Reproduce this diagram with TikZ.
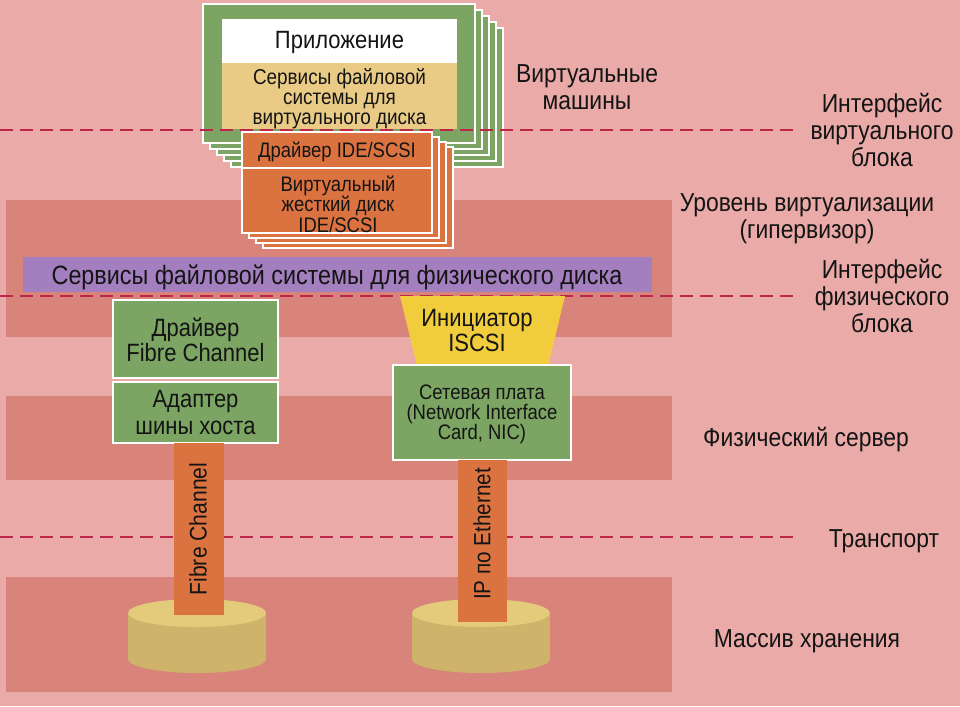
\documentclass[tikz,border=0pt]{standalone}
\usepackage{fontspec}
\setmainfont[FakeStretch=0.88]{Liberation Sans}
\definecolor{bgpink}{HTML}{E9AAA8}
\definecolor{bandred}{HTML}{D9847B}
\definecolor{vmgreen}{HTML}{7CA463}
\definecolor{vfsyellow}{HTML}{E9CB86}
\definecolor{boxorange}{HTML}{DB7341}
\definecolor{fspurple}{HTML}{A47FBF}
\definecolor{isyellow}{HTML}{F1CD3E}
\definecolor{cyltop}{HTML}{E4CB7C}
\definecolor{cylside}{HTML}{CFB36A}
\definecolor{dashred}{HTML}{BB2649}
\definecolor{ink}{HTML}{141414}
\newcommand\myfs[2]{\fontsize{#1}{#2}\selectfont}
\begin{document}
\begin{tikzpicture}[x=1pt,y=-1pt,
  lbl/.style={inner sep=0pt, align=center, text=ink},
  wbox/.style={draw=white, line width=1.8pt},
  plain/.style={inner sep=0pt, outer sep=0pt, anchor=north west},
  dashline/.style={draw=dashred, line width=2.8pt, dash pattern=on 13pt off 7pt},
  side/.style={lbl, font=\myfs{26}{27}}]
\useasboundingbox (0,0) rectangle (960,706);
\fill[bgpink] (0,0) rectangle (960,706);
% bands
\fill[bandred] (6,200) rectangle (672,337);
\fill[bandred] (6,396) rectangle (672,480);
\fill[bandred] (6,577) rectangle (672,692);
% virtual machines stack
\foreach \k in {4,3,2,1}
  \draw[wbox, fill=vmgreen] ({203+7*\k},{4+6*\k}) rectangle ++(272,139);
\node[plain, wbox, fill=vmgreen, minimum width=272pt, minimum height=139pt] (vm) at (203,4) {};
\node[plain, fill=white, minimum width=235pt, minimum height=44pt] (appbox) at (222,19) {};
\node[plain, fill=vfsyellow, minimum width=235pt, minimum height=66pt] (vfsbox) at (222,63) {};
\node[lbl, font=\myfs{25}{26}] (app) at (339.5,42) {Приложение};
\node[lbl, font=\myfs{21.5}{20}] (vfs) at (339.5,99) {Сервисы файловой\\системы для\\виртуального диска};
% dashed interface lines
\coordinate (d1a) at (0,130);   \coordinate (d1b) at (800,130);
\coordinate (d2a) at (0,296);   \coordinate (d2b) at (800,296);
\coordinate (d3a) at (0,537);   \coordinate (d3b) at (800,537);
\draw[dashline] (d1a) -- (d1b);
% virtual disk stack
\foreach \k in {3,2,1}
  \draw[wbox, fill=boxorange] ({242+7*\k},{132+5*\k}) rectangle ++(190,101);
\node[plain, wbox, fill=boxorange, minimum width=190pt, minimum height=36pt] (idebox) at (242,132) {};
\node[plain, wbox, fill=boxorange, minimum width=190pt, minimum height=65pt] (vdbox) at (242,168) {};
\node[lbl, font=\myfs{21}{19}] (ide) at (337,152) {Драйвер IDE/SCSI};
\node[lbl, font=\myfs{21}{19}] (vdisk) at (338,204) {Виртуальный\\жесткий диск\\IDE/SCSI};
% physical file system services
\node[plain, fill=fspurple, minimum width=629pt, minimum height=35pt] (fsbox) at (23,257) {};
\node[lbl, font=\myfs{26.5}{27}] (fs) at (337,277) {Сервисы файловой системы для физического диска};
\draw[dashline] (d2a) -- (d2b);
% iSCSI initiator
\fill[isyellow] (400,296) -- (565,296) -- (548,366) -- (417,366) -- cycle;
\node[lbl, font=\myfs{25}{25}] (iscsi) at (477,331) {Инициатор\\ISCSI};
% host side boxes
\node[plain, wbox, fill=vmgreen, minimum width=165pt, minimum height=78pt] (fcbox) at (113,300) {};
\node[lbl, font=\myfs{25}{25}] (fcdrv) at (195.5,340) {Драйвер\\Fibre Channel};
\node[plain, wbox, fill=vmgreen, minimum width=165pt, minimum height=61pt] (hbabox) at (113,382) {};
\node[lbl, font=\myfs{25}{27}] (hba) at (195.5,413) {Адаптер\\шины хоста};
\node[plain, wbox, fill=vmgreen, minimum width=178pt, minimum height=95pt] (nicbox) at (393,365) {};
\node[lbl, font=\myfs{21}{20}] (nic) at (482,414) {Сетевая плата\\(Network Interface\\Card, NIC)};
\draw[dashline] (d3a) -- (d3b);
% storage arrays
\fill[cylside] (128,613) rectangle (266,659);
\fill[cylside] (197,659) ellipse (69 and 14);
\fill[cyltop] (197,613) ellipse (69 and 14);
\coordinate (cyl1) at (197,615);
\fill[cylside] (412,613) rectangle (550,659);
\fill[cylside] (481,659) ellipse (69 and 14);
\fill[cyltop] (481,613) ellipse (69 and 14);
\coordinate (cyl2) at (482.5,622);
% transport bars
\coordinate (fctop) at (199,443);
\coordinate (iptop) at (482.5,460);
\draw[boxorange, line width=50pt] (fctop) -- (fctop |- cyl1);
\draw[boxorange, line width=49pt] (iptop) -- (cyl2);
\node[lbl, rotate=90, font=\myfs{24}{24}] (fctext) at (198,529) {Fibre Channel};
\node[lbl, rotate=90, font=\myfs{23.5}{24}] (iptext) at (482,534) {IP по Ethernet};
% right-hand labels
\node[side] (vmlbl) at (587,87) {Виртуальные\\машины};
\node[side] (vbi) at (882,130) {Интерфейс\\виртуального\\блока};
\node[side] (hyp) at (807,219) {Уровень виртуализации\\(гипервизор)};
\node[side] (pbi) at (882,296) {Интерфейс\\физического\\блока};
\node[side] (srv) at (806,440) {Физический сервер};
\node[side] (trn) at (884,541) {Транспорт};
\node[side] (sto) at (807,641) {Массив хранения};
\end{tikzpicture}
\end{document}
